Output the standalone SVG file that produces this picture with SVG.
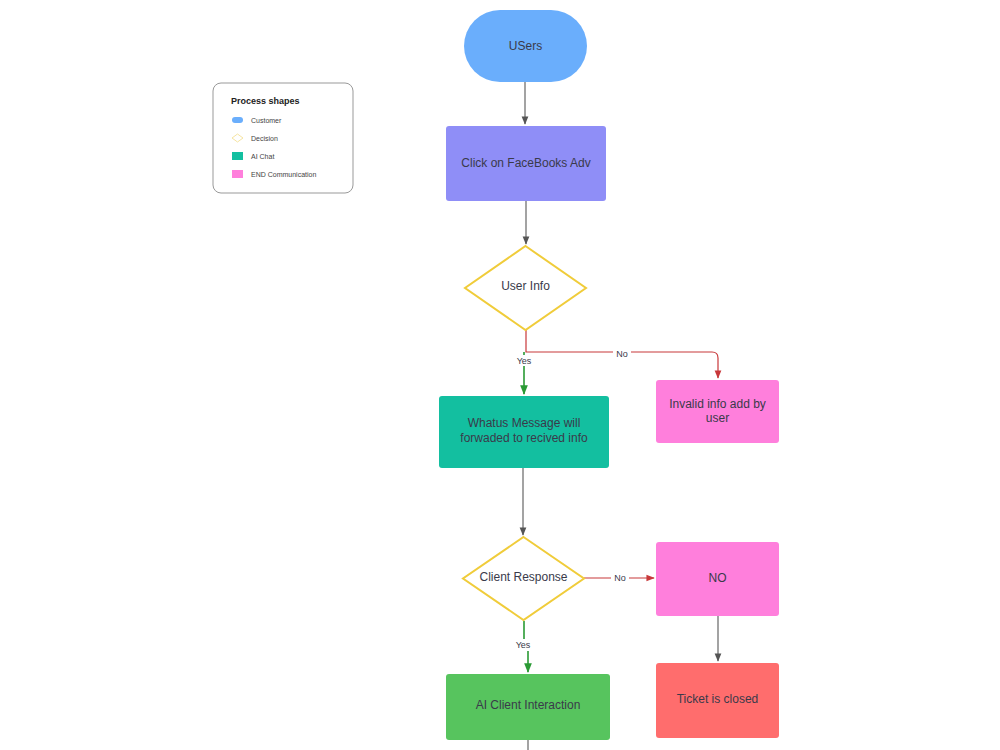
<svg xmlns="http://www.w3.org/2000/svg" width="1000" height="750" viewBox="0 0 1000 750">
<defs>
<style>
.t{font-family:"Liberation Sans",Arial,sans-serif;font-size:12px;fill:#3a3a4a;text-anchor:middle;dominant-baseline:central}
.lg{font-family:"Liberation Sans",Arial,sans-serif;font-size:7px;fill:#444;dominant-baseline:central}
.lb{font-family:"Liberation Sans",Arial,sans-serif;font-size:9px;fill:#3a3a4a;text-anchor:middle;dominant-baseline:central}
.c{fill:none;stroke-width:1.2}
.g{stroke:#666}
.r{stroke:#c8383a}
.gr{stroke:#2a9a34;stroke-width:1.6}
</style>
<marker id="ag" viewBox="0 0 10 10" refX="9" refY="5" markerWidth="7" markerHeight="7" orient="auto-start-reverse"><path d="M0,1 L10,5 L0,9 z" fill="#555"/></marker>
<marker id="ar" viewBox="0 0 10 10" refX="9" refY="5" markerWidth="7" markerHeight="7" orient="auto-start-reverse"><path d="M0,1 L10,5 L0,9 z" fill="#c8383a"/></marker>
<marker id="agr" viewBox="0 0 10 10" refX="9" refY="5" markerWidth="6" markerHeight="6" orient="auto-start-reverse"><path d="M0,1 L10,5 L0,9 z" fill="#2a9a34"/></marker>
</defs>
<rect width="1000" height="750" fill="#ffffff"/>

<g id="legend">
<rect x="213" y="83" width="140" height="110" rx="8" fill="#fff" stroke="#999" stroke-width="1"/>
<text x="231" y="101" class="lg" style="font-size:9px;font-weight:bold;fill:#222">Process shapes</text>
<rect x="232" y="117" width="11" height="6" rx="3" fill="#6aaefc"/>
<text x="251" y="120" class="lg">Customer</text>
<path d="M232,138 L237.5,134 L243,138 L237.5,142 Z" fill="#fff" stroke="#f3dd8a" stroke-width="0.8"/>
<text x="251" y="138" class="lg">Decision</text>
<rect x="232" y="152" width="11" height="8" fill="#13bfa0"/>
<text x="251" y="156" class="lg">AI Chat</text>
<rect x="232" y="170" width="11" height="8" fill="#ff7fdc"/>
<text x="251" y="174" class="lg">END Communication</text>
</g>

<g id="connectors">
<path class="c g" d="M525,82 L525,124" marker-end="url(#ag)"/>
<path class="c g" d="M526,201 L526,244" marker-end="url(#ag)"/>
<path class="c gr" d="M524,352 L524,394" marker-end="url(#agr)"/>
<path class="c r" d="M526,330 L526,352 L712,352 Q718,352 718,358 L718,378" marker-end="url(#ar)"/>
<rect x="515" y="355" width="18" height="11" fill="#fff"/>
<text x="524" y="361" class="lb">Yes</text>
<rect x="613" y="348" width="18" height="11" fill="#fff"/>
<text x="622" y="354" class="lb">No</text>
<path class="c g" d="M523,468 L523,535" marker-end="url(#ag)"/>
<path class="c r" d="M584,578 L654,578" marker-end="url(#ar)"/>
<rect x="611" y="572" width="18" height="11" fill="#fff"/>
<text x="620" y="578" class="lb">No</text>
<path class="c gr" d="M524,621 L524,640"/>
<path class="c gr" d="M528,651 L528,672" marker-end="url(#agr)"/>
<rect x="514" y="639" width="19" height="11" fill="#fff"/>
<text x="523" y="645" class="lb">Yes</text>
<path class="c g" d="M718,616 L718,661" marker-end="url(#ag)"/>
<path class="c g" d="M528,740 L528,750"/>
</g>

<g id="users">
<rect x="464" y="10" width="123" height="72" rx="36" fill="#6aaefc"/>
<text x="525.5" y="46" class="t">USers</text>
</g>
<g id="click">
<rect x="446" y="126" width="160" height="75" rx="3" fill="#8f8ef7"/>
<text x="526" y="163" class="t">Click on FaceBooks Adv</text>
</g>
<g id="userinfo">
<path d="M525.5,246 L586,288 L525.5,330 L465,288 Z" fill="#fff" stroke="#f0cc3a" stroke-width="2"/>
<text x="525.5" y="286" class="t">User Info</text>
</g>
<g id="whatsapp">
<rect x="439" y="396" width="170" height="72" rx="3" fill="#13bfa0"/>
<text x="524" y="423" class="t">Whatus Message will</text>
<text x="524" y="438" class="t">forwaded to recived info</text>
</g>
<g id="invalid">
<rect x="656" y="380" width="123" height="63" rx="3" fill="#ff7fdc"/>
<text x="717.5" y="404" class="t">Invalid info add by</text>
<text x="717.5" y="418" class="t">user</text>
</g>
<g id="clientresponse">
<path d="M523.5,537 L584,578.5 L523.5,620 L463,578.5 Z" fill="#fff" stroke="#f0cc3a" stroke-width="2"/>
<text x="523.5" y="577" class="t">Client Response</text>
</g>
<g id="no">
<rect x="656" y="542" width="123" height="74" rx="3" fill="#ff7fdc"/>
<text x="717.5" y="578" class="t">NO</text>
</g>
<g id="ticket">
<rect x="656" y="663" width="123" height="75" rx="3" fill="#ff6d6d"/>
<text x="717.5" y="699" class="t">Ticket is closed</text>
</g>
<g id="aiclient">
<rect x="446" y="674" width="164" height="66" rx="3" fill="#57c45e"/>
<text x="528" y="705" class="t">AI Client Interaction</text>
</g>
</svg>
